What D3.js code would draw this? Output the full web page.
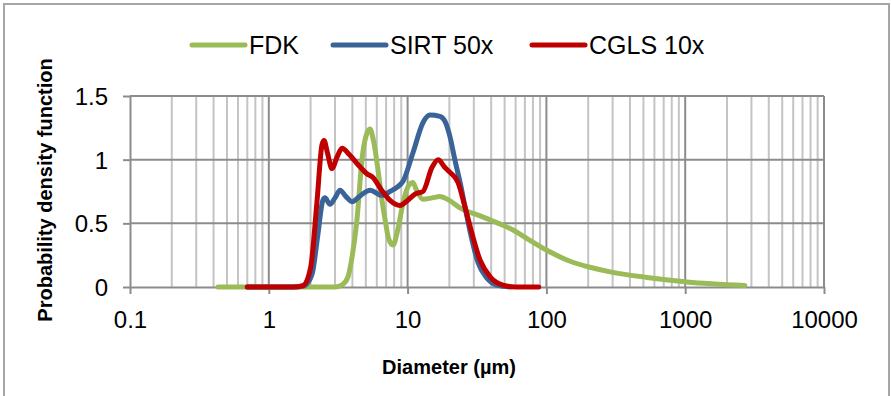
<!DOCTYPE html>
<html>
<head>
<meta charset="utf-8">
<script src="https://cdn.jsdelivr.net/npm/d3@7/dist/d3.min.js"></script>
<style>
  html, body { margin: 0; padding: 0; background: #fff; }
  svg { display: block; font-family: "Liberation Sans", Arial, sans-serif; }
</style>
</head>
<body>
<svg id="chart" width="891" height="396"></svg>
<script>
// ---- data (diameter in µm, probability density) ----
const seriesNames = ["FDK", "SIRT 50x", "CGLS 10x"];
const seriesColors = ["#9BBB59", "#3A6497", "#C00000"];

const fdkDiam = [0.43, 1, 2, 3.0, 3.4, 3.72, 4.0, 4.32, 4.69, 5.0, 5.36, 5.7, 6.12, 6.5, 6.88, 7.3, 7.85, 8.5, 9.27, 10.0, 10.9, 11.6, 12.9, 15, 17, 20, 24, 33, 45, 57, 75, 100, 150, 206, 300, 531, 1030, 2690];
const fdkPdf  = [0, 0, 0, 0, 0.02, 0.08, 0.25, 0.53, 1.0, 1.18, 1.24, 1.14, 0.92, 0.7, 0.53, 0.38, 0.33, 0.45, 0.66, 0.78, 0.82, 0.76, 0.69, 0.7, 0.71, 0.68, 0.62, 0.56, 0.5, 0.45, 0.37, 0.29, 0.2, 0.155, 0.115, 0.075, 0.04, 0.012];

const sirtDiam = [0.7, 1.5, 1.8, 2.05, 2.25, 2.45, 2.54, 2.76, 3.0, 3.26, 3.6, 3.97, 4.6, 5.36, 6.54, 7.47, 8.3, 9.27, 10.9, 12.9, 14.5, 17.1, 18.6, 20.2, 21.9, 23.9, 26.8, 29.1, 32.2, 37.3, 44.1, 55];
const sirtPdf  = [0, 0, 0.01, 0.1, 0.4, 0.68, 0.70, 0.65, 0.7, 0.76, 0.71, 0.67, 0.72, 0.76, 0.72, 0.75, 0.78, 0.83, 1.05, 1.29, 1.35, 1.34, 1.30, 1.18, 1.0, 0.82, 0.55, 0.37, 0.19, 0.07, 0.015, 0];

const cglsDiam = [0.7, 1.0, 1.5, 1.76, 2.0, 2.22, 2.42, 2.5, 2.65, 2.85, 3.1, 3.37, 3.8, 4.32, 5.09, 5.63, 6.5, 7.47, 8.81, 10.0, 11.3, 12.9, 15.0, 16.6, 18.5, 20.2, 23.1, 25.9, 29.1, 33.3, 39.3, 48.7, 60, 88];
const cglsPdf  = [0, 0, 0, 0.01, 0.15, 0.66, 1.12, 1.15, 1.05, 0.93, 1.02, 1.09, 1.04, 0.97, 0.89, 0.86, 0.76, 0.68, 0.64, 0.68, 0.73, 0.75, 0.94, 1.0, 0.94, 0.9, 0.82, 0.63, 0.42, 0.21, 0.08, 0.015, 0, 0];

const xTicks = [0.1, 1, 10, 100, 1000, 10000];
const xTickLabels = ["0.1", "1", "10", "100", "1000", "10000"];
const yTicks = [0, 0.5, 1, 1.5];
const yTickLabels = ["0", "0.5", "1", "1.5"];
const xTitle = "Diameter (µm)";
const yTitle = "Probability density function";

// ---- layout ----
const svg = d3.select("#chart");
const L = 130, R = 824, T = 96, B = 287;
const x = d3.scaleLog().domain([0.1, 10000]).range([L, R]);
const y = d3.scaleLinear().domain([0, 1.5]).range([B, T]);

const majorGrid = "#8C8C8C", minorGrid = "#C4C4C4";

// outer border
svg.append("rect").attr("x", 4).attr("y", 4).attr("width", 885).attr("height", 400)
  .attr("fill", "none").attr("stroke", "#A6A6A6").attr("stroke-width", 2);

// minor vertical gridlines
const minor = [];
for (let e = -1; e < 4; e++) for (let k = 2; k <= 9; k++) minor.push(k * Math.pow(10, e));
svg.append("g").selectAll("line").data(minor).join("line")
  .attr("x1", d => x(d)).attr("x2", d => x(d)).attr("y1", T).attr("y2", B)
  .attr("stroke", minorGrid).attr("stroke-width", 2);

// horizontal gridlines
svg.append("g").selectAll("line").data(yTicks.slice(1)).join("line")
  .attr("x1", L).attr("x2", R).attr("y1", d => y(d)).attr("y2", d => y(d))
  .attr("stroke", majorGrid).attr("stroke-width", 2);

// major vertical gridlines
svg.append("g").selectAll("line").data(xTicks.slice(1)).join("line")
  .attr("x1", d => x(d)).attr("x2", d => x(d)).attr("y1", T).attr("y2", B)
  .attr("stroke", majorGrid).attr("stroke-width", 2);

// x axis
const xAxis = d3.axisBottom(x).tickValues(xTicks).tickFormat((d, i) => xTickLabels[i]).tickSize(7).tickSizeOuter(0);
const gx = svg.append("g").attr("transform", `translate(0,${B})`).call(xAxis);
gx.select(".domain").attr("stroke", majorGrid).attr("stroke-width", 2);
gx.selectAll(".tick line").attr("stroke", majorGrid).attr("stroke-width", 2);
gx.selectAll(".tick text").attr("font-size", 24).attr("fill", "#000")
  .attr("font-family", "Liberation Sans, Arial, sans-serif").attr("y", 0).attr("dy", 41);

// y axis
const yAxis = d3.axisLeft(y).tickValues(yTicks).tickFormat((d, i) => yTickLabels[i]).tickSize(7).tickSizeOuter(0);
const gy = svg.append("g").attr("transform", `translate(${L},0)`).call(yAxis);
gy.select(".domain").attr("stroke", majorGrid).attr("stroke-width", 2);
gy.selectAll(".tick line").attr("stroke", majorGrid).attr("stroke-width", 2);
gy.selectAll(".tick text").attr("font-size", 24).attr("fill", "#000")
  .attr("font-family", "Liberation Sans, Arial, sans-serif").attr("x", -22).attr("dy", "0.36em");

// titles
svg.append("text").attr("x", 449).attr("y", 374).attr("text-anchor", "middle")
  .attr("font-size", 20).attr("font-weight", "bold").text(xTitle);
svg.append("text").attr("transform", "translate(52,190) rotate(-90)").attr("text-anchor", "middle")
  .attr("font-size", 20).attr("font-weight", "bold").text(yTitle);

// series
const series = [
  { name: seriesNames[0], color: seriesColors[0], d: fdkDiam, v: fdkPdf },
  { name: seriesNames[1], color: seriesColors[1], d: sirtDiam, v: sirtPdf },
  { name: seriesNames[2], color: seriesColors[2], d: cglsDiam, v: cglsPdf }
];
const line = d3.line().x(p => x(p[0])).y(p => y(p[1])).curve(d3.curveMonotoneX);
svg.append("g").selectAll("path").data(series).join("path")
  .attr("d", s => line(s.d.map((dd, i) => [dd, s.v[i]])))
  .attr("fill", "none").attr("stroke", s => s.color).attr("stroke-width", 5)
  .attr("stroke-linejoin", "round").attr("stroke-linecap", "round");

// legend
const legendX = [192, 333, 532];
const lg = svg.append("g").selectAll("g").data(series).join("g")
  .attr("transform", (s, i) => `translate(${legendX[i]},45)`);
lg.append("line").attr("x1", 0).attr("x2", 53).attr("y1", 0).attr("y2", 0)
  .attr("stroke", s => s.color).attr("stroke-width", 5).attr("stroke-linecap", "round");
lg.append("text").attr("x", 57).attr("y", 9).attr("font-size", 25).attr("fill", "#000").text(s => s.name);
</script>
</body>
</html>
